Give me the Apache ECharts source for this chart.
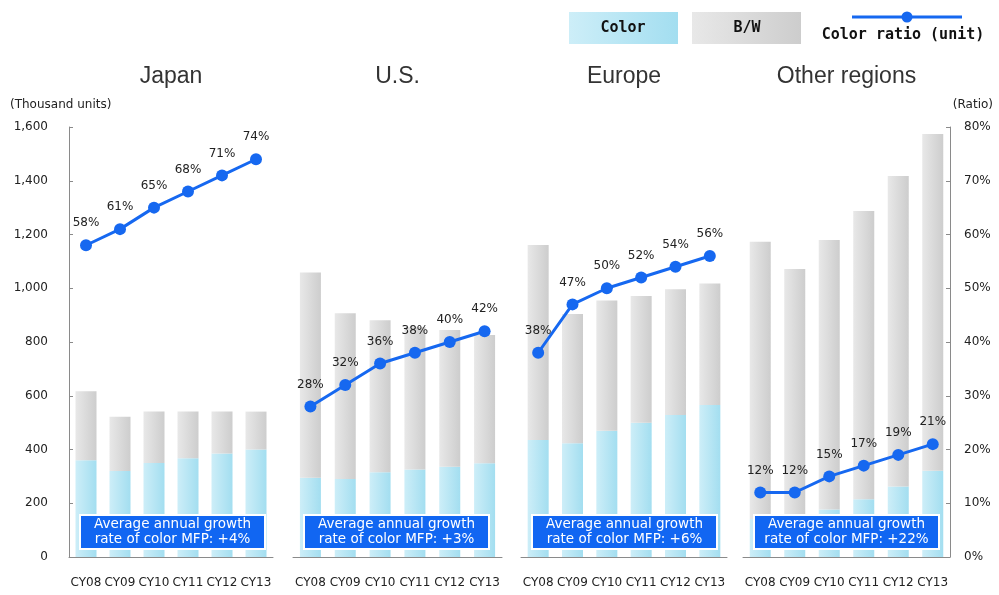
<!DOCTYPE html>
<html>
<head>
<meta charset="utf-8">
<script src="https://cdn.jsdelivr.net/npm/echarts@6/dist/echarts.min.js"></script>
<style>
  html, body { margin: 0; padding: 0; background: #fff; }
  #chart { width: 999px; height: 595px; }
</style>
</head>
<body>
<div id="chart"></div>
<script>
// ---------- data ----------
const categories = ['CY08', 'CY09', 'CY10', 'CY11', 'CY12', 'CY13'];
const regions = ['Japan', 'U.S.', 'Europe', 'Other regions'];

const colorJapan = [360, 320, 350, 367, 385, 400];
const bwJapan    = [257, 202, 191, 174, 156, 141];
const ratioJapan = [58, 61, 65, 68, 71, 74];

const colorUS = [295, 290, 315, 326, 336, 349];
const bwUS    = [764, 617, 566, 529, 509, 477];
const ratioUS = [28, 32, 36, 38, 40, 42];

const colorEurope = [435, 423, 470, 500, 528, 566];
const bwEurope    = [726, 481, 484, 471, 468, 452];
const ratioEurope = [38, 47, 50, 52, 54, 56];

const colorOther = [141, 129, 177, 215, 262, 321];
const bwOther    = [1032, 943, 1003, 1072, 1156, 1253];
const ratioOther = [12, 12, 15, 17, 19, 21];

const growthLabels = ['+4%', '+3%', '+6%', '+22%'];

const unitTicks  = { min: 0, max: 1600, interval: 200 };
const ratioTicks = { min: 0, max: 80, interval: 10 };

const colorData = [colorJapan, colorUS, colorEurope, colorOther];
const bwData    = [bwJapan, bwUS, bwEurope, bwOther];
const ratioData = [ratioJapan, ratioUS, ratioEurope, ratioOther];

// ---------- layout ----------
const gridTop = 127, gridHeight = 430;
const gridBoxes = [
  { left: 69,  width: 204 },
  { left: 293, width: 209 },
  { left: 521, width: 206 },
  { left: 743, width: 207 }
];

const FONT = 'DejaVu Sans';
const axisGray = '#8a8a8a';
const lineBlue = '#1668f0';
const boxBlue = '#1166f2';

const colorFill = () => new echarts.graphic.LinearGradient(0, 0, 1, 0, [
  { offset: 0, color: '#cdeef8' }, { offset: 1, color: '#a3def0' }
]);
const bwFill = () => new echarts.graphic.LinearGradient(0, 0, 1, 0, [
  { offset: 0, color: '#e8e8e8' }, { offset: 1, color: '#cdcdcd' }
]);

const grids = [], xAxes = [], yAxes = [], series = [];

gridBoxes.forEach((g, i) => {
  grids.push({ left: g.left, width: g.width, top: gridTop, height: gridHeight });

  xAxes.push({
    type: 'category', gridIndex: i, data: categories,
    axisLine: { lineStyle: { color: axisGray, width: 1 } },
    axisTick: { inside: true, length: 4, lineStyle: { color: axisGray } },
    axisLabel: { interval: 0, margin: 20, fontSize: 12, color: '#222', fontFamily: FONT }
  });

  // bar value axis
  yAxes.push({
    type: 'value', gridIndex: i, position: 'left',
    min: unitTicks.min, max: unitTicks.max, interval: unitTicks.interval,
    show: i === 0,
    axisLine: { show: true, lineStyle: { color: axisGray } },
    axisTick: { show: true, inside: true, length: 4, lineStyle: { color: axisGray } },
    splitLine: { show: false },
    axisLabel: {
      margin: 21, fontSize: 12, color: '#222', fontFamily: FONT,
      formatter: v => v.toLocaleString('en-US')
    }
  });

  // ratio axis
  yAxes.push({
    type: 'value', gridIndex: i, position: 'right',
    min: ratioTicks.min, max: ratioTicks.max, interval: ratioTicks.interval,
    show: i === 3,
    axisLine: { show: true, lineStyle: { color: axisGray } },
    axisTick: { show: true, inside: true, length: 4, lineStyle: { color: axisGray } },
    splitLine: { show: false },
    axisLabel: {
      margin: 14, fontSize: 12, color: '#222', fontFamily: FONT,
      formatter: v => v + '%'
    }
  });

  series.push({
    name: 'Color', type: 'bar', stack: 'r' + i,
    xAxisIndex: i, yAxisIndex: 2 * i,
    barWidth: 21,
    itemStyle: { color: colorFill() },
    data: colorData[i], z: 2
  });
  series.push({
    name: 'B/W', type: 'bar', stack: 'r' + i,
    xAxisIndex: i, yAxisIndex: 2 * i,
    barWidth: 21,
    itemStyle: { color: bwFill() },
    data: bwData[i], z: 2
  });
  series.push({
    name: 'Color ratio (unit)', type: 'line',
    xAxisIndex: i, yAxisIndex: 2 * i + 1,
    data: ratioData[i],
    symbol: 'circle', symbolSize: 12,
    lineStyle: { color: lineBlue, width: 3 },
    itemStyle: { color: lineBlue },
    label: {
      show: true, position: 'top', distance: 10,
      fontSize: 12, color: '#222', fontFamily: FONT,
      formatter: p => p.value + '%'
    },
    z: 5
  });
});

// ---------- graphic: titles, axis names, notes, legend ----------
const graphic = [];

regions.forEach((name, i) => {
  const g = gridBoxes[i];
  graphic.push({
    type: 'text', z: 10,
    x: g.left + g.width / 2, y: 77,
    style: {
      text: name, fill: '#333', font: '23px "Liberation Sans", Arial, sans-serif',
      textAlign: 'center', textVerticalAlign: 'middle'
    }
  });
  // note box
  graphic.push({
    type: 'group', z: 20,
    x: g.left + 11, y: 515,
    children: [
      {
        type: 'rect', z: 20,
        shape: { x: 0, y: 0, width: 185, height: 34 },
        style: { fill: boxBlue, stroke: '#ffffff', lineWidth: 2 }
      },
      {
        type: 'text', z: 21,
        x: 92.5, y: 17,
        style: {
          text: 'Average annual growth\nrate of color MFP: ' + growthLabels[i],
          fill: '#ffffff', font: '13.5px "DejaVu Sans", sans-serif',
          lineHeight: 15, textAlign: 'center', textVerticalAlign: 'middle'
        }
      }
    ]
  });
});

graphic.push({
  type: 'text', z: 10, x: 10, y: 105,
  style: { text: '(Thousand units)', fill: '#222', font: '12px "DejaVu Sans", sans-serif',
           textAlign: 'left', textVerticalAlign: 'middle' }
});
graphic.push({
  type: 'text', z: 10, x: 993, y: 105,
  style: { text: '(Ratio)', fill: '#222', font: '12px "DejaVu Sans", sans-serif',
           textAlign: 'right', textVerticalAlign: 'middle' }
});

// legend
const legendFont = 'bold 15px "DejaVu Sans Mono", monospace';
graphic.push({
  type: 'rect', z: 10,
  shape: { x: 569, y: 12, width: 109, height: 32 },
  style: { fill: colorFill() }
});
graphic.push({
  type: 'text', z: 11, x: 623, y: 28,
  style: { text: 'Color', fill: '#111', font: legendFont, textAlign: 'center', textVerticalAlign: 'middle' }
});
graphic.push({
  type: 'rect', z: 10,
  shape: { x: 692, y: 12, width: 109, height: 32 },
  style: { fill: bwFill() }
});
graphic.push({
  type: 'text', z: 11, x: 747, y: 28,
  style: { text: 'B/W', fill: '#111', font: legendFont, textAlign: 'center', textVerticalAlign: 'middle' }
});
graphic.push({
  type: 'line', z: 10,
  shape: { x1: 852, y1: 17, x2: 962, y2: 17 },
  style: { stroke: lineBlue, lineWidth: 3 }
});
graphic.push({
  type: 'circle', z: 11,
  shape: { cx: 907, cy: 17, r: 5.5 },
  style: { fill: lineBlue }
});
graphic.push({
  type: 'text', z: 11, x: 903, y: 35,
  style: { text: 'Color ratio (unit)', fill: '#111', font: legendFont, textAlign: 'center', textVerticalAlign: 'middle' }
});

const chart = echarts.init(document.getElementById('chart'), null, { renderer: 'canvas' });
chart.setOption({
  animation: false,
  backgroundColor: '#ffffff',
  grid: grids,
  xAxis: xAxes,
  yAxis: yAxes,
  series: series,
  graphic: graphic
});
</script>
</body>
</html>
